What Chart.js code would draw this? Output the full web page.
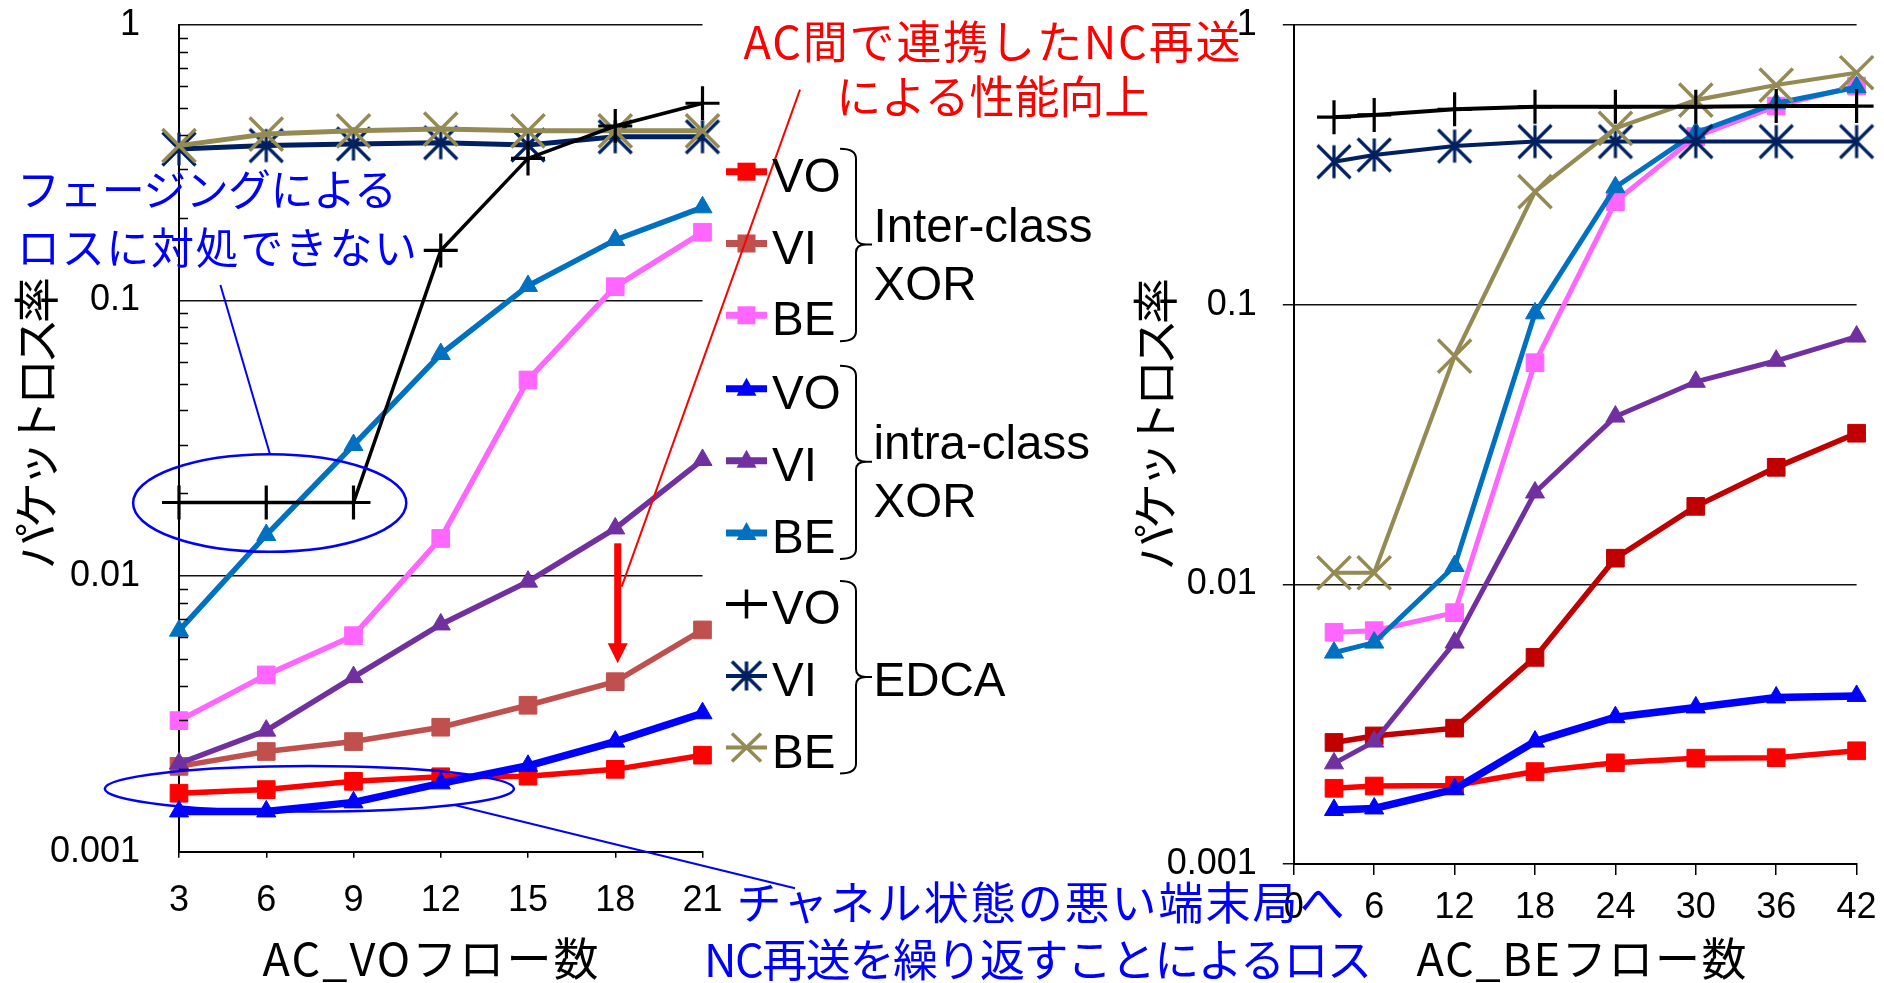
<!DOCTYPE html>
<html lang="ja">
<head>
<meta charset="utf-8">
<title>パケットロス率</title>
<script src="https://cdn.jsdelivr.net/npm/chart.js@4.4.1/dist/chart.umd.min.js"></script>
<style>
  html, body { margin: 0; padding: 0; background: #fff; }
  #stage { position: relative; width: 1884px; height: 983px; overflow: hidden; background: #fff; }
  #stage canvas, #stage svg { position: absolute; left: 0; top: 0; }
</style>
</head>
<body>
<div id="stage">
  <canvas id="voChart" width="1884" height="983"></canvas>
  <canvas id="beChart" width="1884" height="983"></canvas>
  <svg id="notes" width="1884" height="983" xmlns="http://www.w3.org/2000/svg"></svg>
</div>
<script>
// ---- categories and tick labels ----
const voFlowLabels = ['3', '6', '9', '12', '15', '18', '21'];
const beFlowCounts = [3, 6, 12, 18, 24, 30, 36, 42];
const beTickValues = [0, 6, 12, 18, 24, 30, 36, 42];
const lossTickValues = [0.001, 0.01, 0.1, 1];
const lossTickLabels = ['0.001', '0.01', '0.1', '1'];

// ---- packet loss vs. number of AC_VO flows ----
const voInterVO = [0.00163, 0.00168, 0.0018, 0.00187, 0.00188, 0.00199, 0.00224];
const voInterVI = [0.00204, 0.00231, 0.00251, 0.00283, 0.0034, 0.00414, 0.00638];
const voInterBE = [0.00299, 0.00438, 0.00608, 0.0137, 0.0515, 0.1123, 0.177];
const voIntraVO = [0.0014, 0.0014, 0.00151, 0.00177, 0.00205, 0.00251, 0.00318];
const voIntraVI = [0.00209, 0.00275, 0.0043, 0.00668, 0.00955, 0.0149, 0.0264];
const voIntraBE = [0.00634, 0.0141, 0.0299, 0.064, 0.113, 0.166, 0.218];
const voEdcaVO = [0.0185, 0.0185, 0.0185, 0.152, 0.328, 0.43, 0.52];
const voEdcaVI = [0.355, 0.365, 0.37, 0.374, 0.367, 0.393, 0.393];
const voEdcaBE = [0.365, 0.402, 0.413, 0.419, 0.413, 0.413, 0.413];

// ---- packet loss vs. number of AC_BE flows ----
const beInterVO = [0.001865, 0.0019, 0.00191, 0.00214, 0.0023, 0.00239, 0.0024, 0.00254];
const beInterVI = [0.00272, 0.00287, 0.00306, 0.00548, 0.0124, 0.019, 0.0262, 0.0347];
const beInterBE = [0.00674, 0.00683, 0.00792, 0.062, 0.2335, 0.399, 0.513, 0.605];
const beIntraVO = [0.00156, 0.00158, 0.00185, 0.00274, 0.00335, 0.00363, 0.00394, 0.00399];
const beIntraVI = [0.00229, 0.00274, 0.00619, 0.0213, 0.0398, 0.053, 0.063, 0.0769];
const beIntraBE = [0.0057, 0.00619, 0.01163, 0.0931, 0.263, 0.412, 0.525, 0.599];
const beEdcaVO = [0.468, 0.477, 0.4995, 0.51, 0.51, 0.51, 0.513, 0.513];
const beEdcaVI = [0.3245, 0.343, 0.369, 0.383, 0.383, 0.383, 0.383, 0.383];
const beEdcaBE = [0.011, 0.011, 0.0655, 0.2535, 0.427, 0.539, 0.61, 0.675];

// ---- colours ----
const C = {
  red: '#FF0000', brick: '#C0504D', darkRed: '#C00000', pink: '#FF66FF',
  blue: '#0000FF', purple: '#7030A0', steel: '#0070C0',
  black: '#000000', navy: '#002060', khaki: '#948A54'
};

Chart.defaults.font.family = "'Liberation Sans', Arial, sans-serif";
Chart.defaults.color = '#000';
Chart.defaults.animation = false;

// six-armed star marker: an X inside a square plus a vertical bar
function asteriskMarker(half, color, lw) {
  const c = document.createElement('canvas');
  const size = Math.ceil(half * 2 + lw * 2);
  c.width = c.height = size;
  const g = c.getContext('2d');
  const m = size / 2;
  g.strokeStyle = color; g.lineWidth = lw;
  g.beginPath();
  g.moveTo(m, m - half); g.lineTo(m, m + half);
  g.moveTo(m - half, m - half); g.lineTo(m + half, m + half);
  g.moveTo(m + half, m - half); g.lineTo(m - half, m + half);
  g.stroke();
  return c;
}
const starChart = asteriskMarker(16.5, C.navy, 3.2);
const starKey = asteriskMarker(14.5, C.navy, 3.5);

function series(label, values, color, style, width, xs) {
  const base = {
    label,
    data: xs ? xs.map((x, i) => ({ x, y: values[i] })) : values,
    borderColor: color, backgroundColor: color,
    borderWidth: width, tension: 0, clip: false,
    pointBorderColor: color, pointBackgroundColor: color
  };
  if (style === 'rect') Object.assign(base, { pointStyle: 'rect', pointRadius: 12.5, pointBorderWidth: 1 });
  if (style === 'triangle') Object.assign(base, { pointStyle: 'triangle', pointRadius: 11, pointBorderWidth: 1 });
  if (style === 'cross') Object.assign(base, { pointStyle: 'cross', pointRadius: 17, pointBorderWidth: 3.2 });
  if (style === 'x') Object.assign(base, { pointStyle: 'crossRot', pointRadius: 23.5, pointBorderWidth: 3.5 });
  if (style === 'star') Object.assign(base, { pointStyle: starChart, pointRadius: 16.5, pointBorderWidth: 0 });
  return base;
}

// fixed axis boxes so the plot areas land where the page layout wants them
function fixVertical(widthPx) {
  return s => { s.width = widthPx; s.paddingTop = 0; s.paddingBottom = 0; };
}
function fixHorizontal(heightPx) {
  return s => { s.height = heightPx; s.paddingLeft = 0; s.paddingRight = 0; };
}

function lossAxis(widthPx, tickLen, pad) {
  return {
    type: 'logarithmic', min: 0.001, max: 1,
    afterBuildTicks: s => { s.ticks = lossTickValues.map(v => ({ value: v })); },
    afterFit: fixVertical(widthPx),
    ticks: {
      autoSkip: false, padding: pad, color: '#000', font: { size: 36 },
      callback: v => {
        const i = lossTickValues.findIndex(t => Math.abs(t - v) / t < 1e-6);
        return i < 0 ? '' : lossTickLabels[i];
      }
    },
    grid: { color: '#111', lineWidth: 1.5, drawTicks: tickLen > 0, tickLength: tickLen },
    border: { display: true, color: '#000', width: 2 }
  };
}

// ---- legend rows (key drawn on canvas, labels as SVG text) ----
const keyRows = [
  { label: 'VO', color: C.red, marker: 'rect', width: 7, y: 171.7 },
  { label: 'VI', color: C.brick, marker: 'rect', width: 7, y: 243.5 },
  { label: 'BE', color: C.pink, marker: 'rect', width: 7, y: 315.3 },
  { label: 'VO', color: C.blue, marker: 'triangle', width: 7, y: 388.7 },
  { label: 'VI', color: C.purple, marker: 'triangle', width: 7, y: 460.8 },
  { label: 'BE', color: C.steel, marker: 'triangle', width: 7, y: 533 },
  { label: 'VO', color: C.black, marker: 'cross', width: 4, y: 604 },
  { label: 'VI', color: C.navy, marker: 'star', width: 4, y: 676 },
  { label: 'BE', color: C.khaki, marker: 'x', width: 4, y: 747.5 }
];
const keyGroups = [
  { lines: ['Inter-class', 'XOR'], first: 0 },
  { lines: ['intra-class', 'XOR'], first: 3 },
  { lines: ['EDCA'], first: 6 }
];
const KEY_X0 = 726, KEY_X1 = 767;

function drawKey(ctx, row) {
  const cx = (KEY_X0 + KEY_X1) / 2, y = row.y;
  ctx.save();
  ctx.strokeStyle = row.color; ctx.fillStyle = row.color;
  ctx.lineWidth = row.width;
  ctx.beginPath(); ctx.moveTo(KEY_X0, y); ctx.lineTo(KEY_X1, y); ctx.stroke();
  ctx.lineWidth = 3.5;
  if (row.marker === 'rect') ctx.fillRect(cx - 9, y - 9, 18, 18);
  if (row.marker === 'triangle') {
    ctx.beginPath(); ctx.moveTo(cx, y - 11); ctx.lineTo(cx + 10, y + 7); ctx.lineTo(cx - 10, y + 7); ctx.closePath(); ctx.fill();
  }
  if (row.marker === 'cross') {
    ctx.beginPath(); ctx.moveTo(cx, y - 14.5); ctx.lineTo(cx, y + 14.5); ctx.stroke();
  }
  if (row.marker === 'x') {
    ctx.beginPath();
    ctx.moveTo(cx - 14.5, y - 14); ctx.lineTo(cx + 14.5, y + 14);
    ctx.moveTo(cx + 14.5, y - 14); ctx.lineTo(cx - 14.5, y + 14);
    ctx.stroke();
  }
  if (row.marker === 'star') ctx.drawImage(starKey, cx - starKey.width / 2, y - starKey.height / 2);
  ctx.restore();
}

// ---- callout geometry (ellipses, leaders and arrow) ----
const callouts = {
  fadingRing: { cx: 269.7, cy: 503, rx: 136.6, ry: 48.8 },
  fadingLeader: [220.4, 285, 270, 454.2],
  channelRing: { cx: 309.4, cy: 788.8, rx: 204.6, ry: 22.8 },
  channelLeader: [454.5, 805, 795, 888.3],
  gainLeader: [800, 89.7, 621.7, 586.7],
  gainArrow: { x: 617.7, y0: 543.3, y1: 663.3, headLen: 20, headHalf: 10 }
};

const voDecorations = {
  id: 'voDecorations',
  afterDraw(chart) {
    const ctx = chart.ctx, y = chart.scales.y, area = chart.chartArea;
    // inner minor ticks on the log axis
    ctx.save();
    ctx.strokeStyle = '#000'; ctx.lineWidth = 1.5;
    ctx.beginPath();
    [0.001, 0.01, 0.1].forEach(d => {
      for (let k = 2; k <= 9; k++) {
        const py = Math.round(y.getPixelForValue(k * d)) + 0.5;
        ctx.moveTo(area.left, py); ctx.lineTo(area.left + 9, py);
      }
    });
    ctx.stroke();
    ctx.restore();

    keyRows.forEach(r => drawKey(ctx, r));

    ctx.save();
    ctx.strokeStyle = C.blue; ctx.lineWidth = 2.5;
    [callouts.fadingRing, callouts.channelRing].forEach(e => {
      ctx.beginPath(); ctx.ellipse(e.cx, e.cy, e.rx, e.ry, 0, 0, Math.PI * 2); ctx.stroke();
    });
    ctx.lineWidth = 2;
    [callouts.fadingLeader, callouts.channelLeader].forEach(l => {
      ctx.beginPath(); ctx.moveTo(l[0], l[1]); ctx.lineTo(l[2], l[3]); ctx.stroke();
    });
    ctx.strokeStyle = C.red; ctx.fillStyle = C.red; ctx.lineWidth = 2;
    const g = callouts.gainLeader;
    ctx.beginPath(); ctx.moveTo(g[0], g[1]); ctx.lineTo(g[2], g[3]); ctx.stroke();
    const a = callouts.gainArrow;
    ctx.lineWidth = 7;
    ctx.beginPath(); ctx.moveTo(a.x, a.y0); ctx.lineTo(a.x, a.y1 - a.headLen + 1); ctx.stroke();
    ctx.beginPath();
    ctx.moveTo(a.x - a.headHalf, a.y1 - a.headLen); ctx.lineTo(a.x + a.headHalf, a.y1 - a.headLen); ctx.lineTo(a.x, a.y1);
    ctx.closePath(); ctx.fill();
    ctx.restore();
  }
};

// ---- left chart: AC_VO flows ----
new Chart(document.getElementById('voChart'), {
  type: 'line',
  data: {
    labels: voFlowLabels,
    datasets: [
      series('EDCA VO', voEdcaVO, C.black, 'cross', 3.5),
      series('EDCA BE', voEdcaBE, C.khaki, 'x', 5),
      series('EDCA VI', voEdcaVI, C.navy, 'star', 5),
      series('intra-class XOR VO', voIntraVO, C.blue, 'triangle', 7.5),
      series('intra-class XOR BE', voIntraBE, C.steel, 'triangle', 5.5),
      series('intra-class XOR VI', voIntraVI, C.purple, 'triangle', 5.5),
      series('Inter-class XOR VO', voInterVO, C.red, 'rect', 5.5),
      series('Inter-class XOR VI', voInterVI, C.brick, 'rect', 5.5),
      series('Inter-class XOR BE', voInterBE, C.pink, 'rect', 5.5)
    ]
  },
  options: {
    responsive: false, animation: false,
    layout: { autoPadding: false, padding: { top: 25, left: 0, right: 1884 - 702.5, bottom: 0 } },
    plugins: { legend: { display: false }, tooltip: { enabled: false } },
    scales: {
      x: {
        type: 'category', offset: false,
        afterFit: fixHorizontal(983 - 851.7),
        grid: { drawOnChartArea: false, drawTicks: true, tickLength: 6, color: '#000', lineWidth: 1.5 },
        border: { display: true, color: '#000', width: 2 },
        ticks: { font: { size: 36 }, padding: 21.4, autoSkip: false, maxRotation: 0, color: '#000' }
      },
      y: lossAxis(179, 0, 39)
    }
  },
  plugins: [voDecorations]
});

// ---- right chart: AC_BE flows ----
new Chart(document.getElementById('beChart'), {
  type: 'line',
  data: {
    datasets: [
      series('EDCA VO', beEdcaVO, C.black, 'cross', 4, beFlowCounts),
      series('EDCA BE', beEdcaBE, C.khaki, 'x', 4.2, beFlowCounts),
      series('EDCA VI', beEdcaVI, C.navy, 'star', 4, beFlowCounts),
      series('intra-class XOR VO', beIntraVO, C.blue, 'triangle', 7.5, beFlowCounts),
      series('intra-class XOR BE', beIntraBE, C.steel, 'triangle', 5, beFlowCounts),
      series('intra-class XOR VI', beIntraVI, C.purple, 'triangle', 5, beFlowCounts),
      series('Inter-class XOR VO', beInterVO, C.red, 'rect', 5.5, beFlowCounts),
      series('Inter-class XOR VI', beInterVI, C.darkRed, 'rect', 5.5, beFlowCounts),
      series('Inter-class XOR BE', beInterBE, C.pink, 'rect', 5, beFlowCounts)
    ]
  },
  options: {
    responsive: false, animation: false,
    layout: { autoPadding: false, padding: { top: 25, left: 0, right: 1884 - 1856.6, bottom: 0 } },
    plugins: { legend: { display: false }, tooltip: { enabled: false } },
    scales: {
      x: {
        type: 'linear', min: 0, max: 42,
        afterBuildTicks: s => { s.ticks = beTickValues.map(v => ({ value: v })); },
        afterFit: fixHorizontal(983 - 864),
        grid: { drawOnChartArea: false, drawTicks: true, tickLength: 11, color: '#000', lineWidth: 1.5 },
        border: { display: true, color: '#000', width: 2 },
        ticks: { font: { size: 36 }, padding: 11.7, autoSkip: false, maxRotation: 0, color: '#000',
                 callback: v => String(v) }
      },
      y: lossAxis(1293.8, 11, 26)
    }
  }
});

// ---- text layer ----
const SVGNS = 'http://www.w3.org/2000/svg';
const notes = document.getElementById('notes');
const JP = "'Noto Sans CJK JP', 'Noto Sans CJK SC', sans-serif";
const EN = "'Liberation Sans', Arial, sans-serif";
function addText(str, x, y, opts) {
  const t = document.createElementNS(SVGNS, 'text');
  t.textContent = str;
  t.setAttribute('x', x); t.setAttribute('y', y);
  t.setAttribute('font-family', opts.family || JP);
  t.setAttribute('font-size', opts.size);
  t.setAttribute('fill', opts.color || '#000');
  if (opts.anchor) t.setAttribute('text-anchor', opts.anchor);
  if (opts.len) { t.setAttribute('textLength', opts.len); t.setAttribute('lengthAdjust', 'spacing'); }
  if (opts.baseline) t.setAttribute('dominant-baseline', opts.baseline);
  if (opts.transform) t.setAttribute('transform', opts.transform);
  (opts.parent || notes).appendChild(t);
  return t;
}
function addPath(d, stroke, width) {
  const p = document.createElementNS(SVGNS, 'path');
  p.setAttribute('d', d); p.setAttribute('fill', 'none');
  p.setAttribute('stroke', stroke); p.setAttribute('stroke-width', width);
  notes.appendChild(p);
}

// legend labels and braces
keyRows.forEach(r => addText(r.label, 772, r.y + 20, { family: EN, size: 47.5 }));
keyGroups.forEach(g => {
  const top = keyRows[g.first].y - 23, mid = keyRows[g.first + 1].y + 1, bot = keyRows[g.first + 2].y + 26;
  addPath(`M840,${top} Q856,${top} 856,${top + 10} L856,${mid - 8} Q856,${mid} 866,${mid} L872,${mid}` +
          ` M866,${mid} Q856,${mid} 856,${mid + 8} L856,${bot - 10} Q856,${bot} 840,${bot}`, '#000', 2);
  if (g.lines.length === 2) {
    addText(g.lines[0], 873.5, mid - 2.5, { family: EN, size: 47.5 });
    addText(g.lines[1], 873.5, mid + 55, { family: EN, size: 47.5 });
  } else {
    addText(g.lines[0], 873.5, mid + 18.5, { family: EN, size: 47.5 });
  }
});

// axis titles
addText('AC_VOフロー数', 430.5, 976, { size: 45, anchor: 'middle', len: 336 });
addText('AC_BEフロー数', 1581.6, 976, { size: 45, anchor: 'middle', len: 330 });
addText('パケットロス率', 0, 0, { size: 46, anchor: 'middle', len: 292, baseline: 'central',
  transform: 'translate(33,423) rotate(-90)' });
addText('パケットロス率', 0, 0, { size: 46, anchor: 'middle', len: 292, baseline: 'central',
  transform: 'translate(1151.5,424) rotate(-90)' });

// callout texts
addText('AC間で連携したNC再送', 992, 58.5, { size: 45, anchor: 'middle', len: 497, color: C.red });
addText('による性能向上', 992.7, 113.7, { size: 45, anchor: 'middle', len: 313, color: C.red });
addText('フェージングによる', 17, 206, { size: 43, len: 380, color: C.blue });
addText('ロスに対処できない', 17, 263.5, { size: 43, len: 400, color: C.blue });
addText('チャネル状態の悪い端末局へ', 1040.4, 920, { size: 45, anchor: 'middle', len: 608, color: C.blue });
addText('NC再送を繰り返すことによるロス', 1038, 977, { size: 45, anchor: 'middle', len: 668, color: C.blue });
</script>
</body>
</html>
